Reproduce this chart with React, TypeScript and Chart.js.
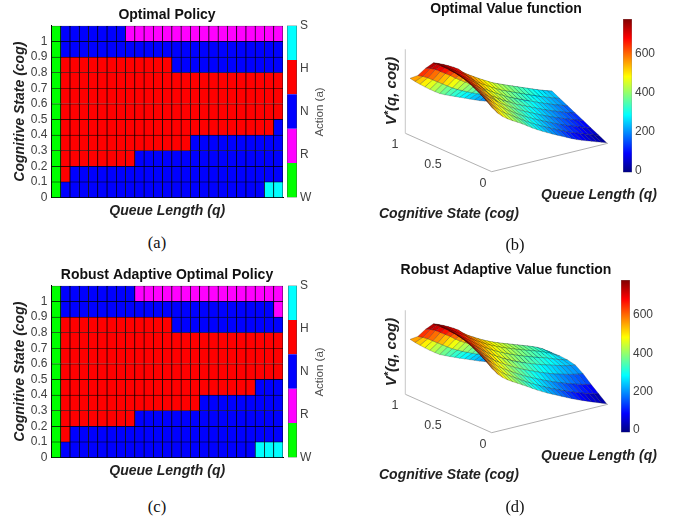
import React, { useEffect, useRef } from "react";
import { Chart, registerables } from "chart.js";

Chart.register(...registerables);

const FONT = "'Liberation Sans', Arial, sans-serif";
const TICK_COLOR = "#404040";
const TITLE_COLOR = "#222222";

const queueLabels = ["1","2","3","4","5","6","7","8","9","10","11","12","13","14","15","16","17","18","19","20","21","22","23","24","25"];
const cogTicks = [0, 0.1, 0.2, 0.3, 0.4, 0.5, 0.6, 0.7, 0.8, 0.9, 1];
const actionNames = ["W", "R", "N", "H", "S"];
const actionColors = ["#00ff00", "#ff00ff", "#0000ff", "#ff0000", "#00ffff"];
const actionTicks = [0, 1, 2, 3, 4];

// Policy rows from the bottom cell (cog 0-0.1) to the top one, as runs of action letters.
const optimalPolicy = [
  "W1 N22 S2",
  "W1 H1 N23",
  "W1 H8 N16",
  "W1 H14 N10",
  "W1 H23 N1",
  "W1 H24",
  "W1 H24",
  "W1 H24",
  "W1 H12 N12",
  "W1 N24",
  "W1 N7 R17",
];
const robustPolicy = [
  "W1 N21 S3",
  "W1 H1 N23",
  "W1 H8 N16",
  "W1 H15 N9",
  "W1 H21 N3",
  "W1 H24",
  "W1 H24",
  "W1 H24",
  "W1 H12 N12",
  "W1 N23 R1",
  "W1 N8 R16",
];

// Value function, one row per cognitive state (0 to 1), one column per queue length.
const optimalValue = [
  [640,575,520,478,445,417,392,365,335,305,278,252,228,205,182,160,138,116,96,78,62,46,30,15,0],
  [690,630,575,530,490,455,428,398,369,339,312,286,262,239,217,195,174,153,133,115,99,82,66,51,36],
  [730,678,628,580,535,498,465,431,402,373,346,320,296,274,252,231,210,189,170,152,135,119,102,87,72],
  [760,715,670,625,580,540,505,465,436,407,380,354,330,308,287,266,246,226,207,189,172,155,139,123,109],
  [778,738,698,660,620,580,545,498,469,440,413,388,363,343,322,302,282,262,243,225,208,191,175,159,145],
  [785,752,718,685,650,615,580,531,503,474,447,422,397,377,357,337,318,299,280,262,245,227,211,196,181],
  [788,762,735,706,678,645,605,565,536,508,481,456,431,412,392,373,354,335,317,299,281,264,248,232,217],
  [786,768,748,725,700,672,630,598,570,542,515,490,465,446,427,408,390,372,354,336,318,300,284,268,254],
  [703,690,670,640,610,580,545,515,485,458,432,408,385,365,345,328,312,296,280,264,248,232,216,200,188],
  [604,585,560,530,500,470,440,410,385,362,340,320,300,280,262,245,230,215,200,186,172,158,144,130,124],
  [545,505,468,432,398,366,337,315,295,276,257,238,219,200,181,166,152,139,126,113,100,88,76,66,60],
];
const robustValue = [
  [640,575,520,478,445,417,392,365,338,310,283,258,234,212,190,168,146,125,105,86,68,50,33,16,0],
  [690,630,575,530,490,455,428,400,372,344,318,293,270,247,225,205,185,165,147,130,114,98,84,70,58],
  [730,678,628,580,535,498,467,438,410,383,358,333,311,290,270,250,231,213,196,180,165,150,137,125,115],
  [760,715,670,625,582,543,508,478,450,424,399,376,354,335,316,297,280,263,248,234,221,209,198,189,180],
  [778,738,698,660,622,585,550,520,492,466,442,419,398,379,360,343,327,312,298,285,272,258,246,237,229],
  [785,752,718,685,652,618,585,555,528,502,478,456,436,417,399,382,366,350,336,322,306,289,272,258,245],
  [788,762,735,706,678,648,612,582,556,530,507,486,466,448,431,414,398,382,367,352,336,318,298,272,250],
  [786,768,748,725,700,672,632,600,574,548,524,502,482,464,447,431,415,399,383,367,350,331,308,277,248],
  [703,690,670,640,610,580,545,515,490,465,440,418,398,380,362,345,330,314,298,282,265,248,232,215,200],
  [604,585,560,530,500,470,440,412,388,365,345,325,306,288,270,254,238,223,208,194,180,166,152,138,128],
  [545,505,468,432,398,366,337,316,296,277,258,240,222,204,186,170,156,142,129,116,104,92,80,70,62],
];
const valueTicks = [0, 200, 400, 600];

const jetStops: [number, number, number, number][] = [
  [0, 0, 0, 128],
  [0.125, 0, 0, 255],
  [0.375, 0, 255, 255],
  [0.625, 255, 255, 0],
  [0.875, 255, 0, 0],
  [1, 128, 0, 0],
];
const VMAX = 780;

function jet(t: number) {
  const v = Math.max(0, Math.min(1, t));
  for (let k = 1; k < jetStops.length; k++) {
    const a = jetStops[k - 1];
    const b = jetStops[k];
    if (v <= b[0]) {
      const f = (v - a[0]) / (b[0] - a[0]);
      return `rgb(${Math.round(a[1] + f * (b[1] - a[1]))},${Math.round(a[2] + f * (b[2] - a[2]))},${Math.round(a[3] + f * (b[3] - a[3]))})`;
    }
  }
  return "rgb(128,0,0)";
}

function expandRuns(runs: string) {
  const out: number[] = [];
  runs.split(" ").forEach((r) => {
    const action = actionNames.indexOf(r[0]);
    const n = parseInt(r.slice(1), 10);
    for (let k = 0; k < n; k++) out.push(action);
  });
  return out;
}

const cvs = (left: number, top: number, width: number, height: number): React.CSSProperties => ({
  position: "absolute",
  left,
  top,
  width,
  height,
});

function useChart(make: (c: HTMLCanvasElement) => Chart) {
  const ref = useRef<HTMLCanvasElement | null>(null);
  useEffect(() => {
    const chart = make(ref.current as HTMLCanvasElement);
    return () => chart.destroy();
  }, []);
  return ref;
}

function PolicyChart({ rows, title, top }: { rows: string[]; title: string; top: number }) {
  const ref = useChart((c) => {
    const datasets = rows.map((r) => {
      const cells = expandRuns(r);
      return {
        data: cells.map(() => 0.1),
        backgroundColor: cells.map((a) => actionColors[a]),
        borderColor: "#000000",
        borderWidth: 0.7,
        barPercentage: 1,
        categoryPercentage: 1,
        stack: "policy",
      };
    });
    return new Chart(c, {
      type: "bar",
      data: { labels: queueLabels, datasets },
      options: {
        animation: false,
        responsive: false,
        plugins: {
          legend: { display: false },
          tooltip: { enabled: false },
          title: {
            display: true,
            text: title,
            color: "#111111",
            font: { family: FONT, size: 14, weight: "bold" },
            padding: { top: 6.6, bottom: 2.4 },
          },
        },
        scales: {
          x: {
            stacked: true,
            grid: { display: false, drawTicks: false },
            border: { color: "#000000" },
            ticks: { display: false },
            afterFit: (s: any) => {
              s.height = 27.5;
            },
            title: {
              display: true,
              text: "Queue Length (q)",
              color: TITLE_COLOR,
              font: { family: FONT, size: 14, weight: "bold", style: "italic" },
              padding: { top: 0, bottom: 5.6 },
            },
          },
          y: {
            stacked: true,
            min: 0,
            max: 1.1,
            grid: { display: false, drawTicks: false },
            border: { color: "#000000" },
            afterFit: (s: any) => {
              s.width = 51.5;
            },
            afterBuildTicks: (s: any) => {
              s.ticks = cogTicks.map((value) => ({ value }));
            },
            ticks: {
              color: TICK_COLOR,
              font: { family: FONT, size: 12 },
              padding: 4,
              autoSkip: false,
              callback: (v: any) => String(Math.round(Number(v) * 10) / 10),
            },
            title: {
              display: true,
              text: "Cognitive State (cog)",
              color: TITLE_COLOR,
              font: { family: FONT, size: 14, weight: "bold", style: "italic" },
              padding: { top: 11.6, bottom: 0 },
            },
          },
          // Empty right-hand axis: holds the colour bar's place so the title centres over the panel.
          reserve: {
            type: "linear",
            position: "right",
            display: true,
            min: 0,
            max: 1,
            grid: { display: false, drawTicks: false },
            border: { display: false },
            ticks: { display: false },
            afterFit: (s: any) => {
              s.width = 51;
            },
          },
        },
      } as any,
    });
  });
  return <canvas ref={ref} width={334} height={225} style={cvs(0, top, 334, 225)} />;
}

function ActionBar({ top, left, width }: { top: number; left: number; width: number }) {
  const ref = useChart((c) => {
    const last = actionColors.length - 1;
    const datasets = actionColors.map((color, k) => ({
      data: [0.8],
      backgroundColor: color,
      borderColor: "#404040",
      borderWidth: { left: 0.7, right: 0.7, top: k === last ? 0.7 : 0, bottom: k === 0 ? 0.7 : 0 },
      borderSkipped: false,
      barPercentage: 1,
      categoryPercentage: 1,
      stack: "actions",
    }));
    return new Chart(c, {
      type: "bar",
      data: { labels: ["Action (a)"], datasets },
      options: {
        animation: false,
        responsive: false,
        layout: { padding: { top: 25.5, bottom: 27.5, left: 0, right: 0 } },
        plugins: { legend: { display: false }, tooltip: { enabled: false } },
        scales: {
          x: { display: false, stacked: true },
          y: {
            position: "right",
            stacked: true,
            min: 0,
            max: 4,
            grid: { display: false, drawTicks: false },
            border: { display: false },
            afterFit: (s: any) => {
              s.width = 24;
            },
            afterBuildTicks: (s: any) => {
              s.ticks = actionTicks.map((value) => ({ value }));
            },
            ticks: {
              color: TICK_COLOR,
              font: { family: FONT, size: 12 },
              padding: 3,
              autoSkip: false,
              callback: (v: any) => actionNames[Number(v)],
            },
          },
        },
      } as any,
    });
  });
  return <canvas ref={ref} width={width + 24} height={225} style={cvs(left, top, width + 24, 225)} />;
}

// Oblique projection of (queue share, cog, value) into the panel's plotting units.
const project = (q: number, cog: number, v: number) => ({
  x: 444 + 356 * q - 234 * cog,
  y: 515 - 87 * q - 104 * cog - 0.323 * v,
});

function SurfaceChart({ table, title, top }: { table: number[][]; title: string; top: number }) {
  const ref = useChart((c) => {
    const nq = table[0].length - 1;
    const nc = table.length - 1;
    const P = (i: number, j: number) => project(j / nq, i / nc, table[i][j]);
    const quads: any[] = [];
    for (let i = nc - 1; i >= 0; i--) {
      for (let j = nq - 1; j >= 0; j--) {
        const mean = (table[i][j] + table[i + 1][j] + table[i][j + 1] + table[i + 1][j + 1]) / 4;
        quads.push({
          type: "line",
          data: [P(i, j), P(i + 1, j), P(i + 1, j + 1), P(i, j + 1), P(i, j)],
          backgroundColor: jet(mean / VMAX),
          borderColor: "rgba(0,0,0,0.42)",
          borderWidth: 0.5,
          fill: "shape",
          tension: 0,
          pointRadius: 0,
        });
      }
    }
    const axisLine = (pts: { x: number; y: number }[], w: number, color: string) => ({
      type: "line",
      data: pts,
      borderColor: color,
      borderWidth: w,
      fill: false,
      tension: 0,
      pointRadius: 0,
    });
    const axes = [
      axisLine([project(0.02, 1.09, 0), project(0.02, 1.09, VMAX)], 1.2, "#d0d0d0"),
      axisLine([project(0.02, 1.09, 0), project(0.02, -0.017, 0)], 0.9, "#a8a8a8"),
      axisLine([project(0.02, -0.017, 0), project(1, -0.017, 0)], 0.9, "#a8a8a8"),
    ];
    // Chart.js paints dataset 0 last, so the nearest quad goes first.
    const datasets = [...quads.slice().reverse(), ...axes];
    return new Chart(c, {
      type: "line",
      data: { datasets },
      options: {
        animation: false,
        responsive: false,
        plugins: {
          legend: { display: false },
          tooltip: { enabled: false },
          title: {
            display: true,
            text: title,
            color: "#111111",
            font: { family: FONT, size: 14, weight: "bold" },
            padding: { top: 0.5, bottom: 2.7 },
          },
        },
        scales: {
          x: { type: "linear", display: false, min: 0, max: 996 },
          y: { type: "linear", display: false, min: 60, max: 750, reverse: true },
        },
      } as any,
    });
  });
  return <canvas ref={ref} width={332} height={250} style={cvs(340, top, 332, 250)} />;
}

function ValueBar({ left, top, height, padTop, padBottom, min, max }: { left: number; top: number; height: number; padTop: number; padBottom: number; min: number; max: number }) {
  const ref = useChart((c) => {
    return new Chart(c, {
      type: "bar",
      data: {
        labels: ["V*"],
        datasets: [
          {
            data: [[min, max]],
            barPercentage: 1,
            categoryPercentage: 1,
            borderColor: "#8a8a8a",
            borderWidth: 0.6,
            borderSkipped: false,
            backgroundColor: (ctx: any) => {
              const area = ctx.chart.chartArea;
              if (!area) return "#000080";
              const g = ctx.chart.ctx.createLinearGradient(0, area.bottom, 0, area.top);
              jetStops.forEach((s) => g.addColorStop(s[0], `rgb(${s[1]},${s[2]},${s[3]})`));
              return g;
            },
          },
        ],
      },
      options: {
        animation: false,
        responsive: false,
        layout: { padding: { top: padTop, bottom: padBottom, left: 0, right: 0 } },
        plugins: { legend: { display: false }, tooltip: { enabled: false } },
        scales: {
          x: { display: false },
          y: {
            position: "right",
            min,
            max,
            grid: { display: false, drawTicks: false },
            border: { display: false },
            afterFit: (s: any) => {
              s.width = 30;
            },
            afterBuildTicks: (s: any) => {
              s.ticks = valueTicks.map((value) => ({ value }));
            },
            ticks: { color: TICK_COLOR, font: { family: FONT, size: 12 }, padding: 3, autoSkip: false },
          },
        },
      } as any,
    });
  });
  return <canvas ref={ref} width={39} height={height} style={cvs(left, top, 39, height)} />;
}

function Label({ x, y, rotate, style, children }: { x: number; y: number; rotate?: number; style?: React.CSSProperties; children: React.ReactNode }) {
  return (
    <div
      style={{
        position: "absolute",
        left: x,
        top: y,
        whiteSpace: "nowrap",
        lineHeight: 1,
        fontFamily: FONT,
        transform: `translate(-50%,-50%) rotate(${rotate || 0}deg)`,
        ...style,
      }}
    >
      {children}
    </div>
  );
}

const axisTitleStyle: React.CSSProperties = { fontSize: 14, fontWeight: "bold", fontStyle: "italic", color: TITLE_COLOR };
const tickStyle: React.CSSProperties = { fontSize: 12, color: TICK_COLOR };
const captionStyle: React.CSSProperties = { fontFamily: "'Liberation Serif', serif", fontSize: 16.5, color: "#111111" };
const actionStyle: React.CSSProperties = { fontSize: 11.5, color: "#505050" };

function SurfaceLabels({ dy }: { dy: number }) {
  return (
    <>
      <Label x={390} y={91 + dy} rotate={-90} style={{ ...axisTitleStyle, fontSize: 15 }}>
        V<sup style={{ fontSize: 11, verticalAlign: "4px", lineHeight: 0 }}>*</sup>(q, cog)
      </Label>
      <Label x={395} y={144 + dy} style={{ ...tickStyle, fontSize: 12.5 }}>1</Label>
      <Label x={433} y={164 + dy} style={{ ...tickStyle, fontSize: 12.5 }}>0.5</Label>
      <Label x={483} y={183 + dy} style={{ ...tickStyle, fontSize: 12.5 }}>0</Label>
      <Label x={599} y={193.5 + dy} style={axisTitleStyle}>Queue Length (q)</Label>
      <Label x={449} y={213 + dy} style={axisTitleStyle}>Cognitive State (cog)</Label>
    </>
  );
}

export default function App() {
  return (
    <div style={{ position: "absolute", left: 0, top: 0, width: 680, height: 519, background: "#ffffff", overflow: "hidden" }}>
      <PolicyChart rows={optimalPolicy} title="Optimal Policy" top={0} />
      <ActionBar top={0} left={287} width={10} />
      <Label x={320} y={112} rotate={-90} style={actionStyle}>Action (a)</Label>
      <Label x={157} y={243} style={captionStyle}>(a)</Label>

      <SurfaceChart table={optimalValue} title="Optimal Value function" top={0} />
      <ValueBar left={622.5} top={0} height={190} padTop={19} padBottom={17.5} min={-10} max={779} />
      <SurfaceLabels dy={0} />
      <Label x={515} y={245} style={captionStyle}>(b)</Label>

      <PolicyChart rows={robustPolicy} title="Robust Adaptive Optimal Policy" top={260} />
      <ActionBar top={260} left={287.5} width={9} />
      <Label x={320} y={372} rotate={-90} style={actionStyle}>Action (a)</Label>
      <Label x={157} y={507} style={captionStyle}>(c)</Label>

      <SurfaceChart table={robustValue} title="Robust Adaptive Value function" top={261} />
      <ValueBar left={620.5} top={260} height={190} padTop={20} padBottom={17.5} min={-14} max={783} />
      <SurfaceLabels dy={261} />
      <Label x={515} y={507} style={captionStyle}>(d)</Label>
    </div>
  );
}
